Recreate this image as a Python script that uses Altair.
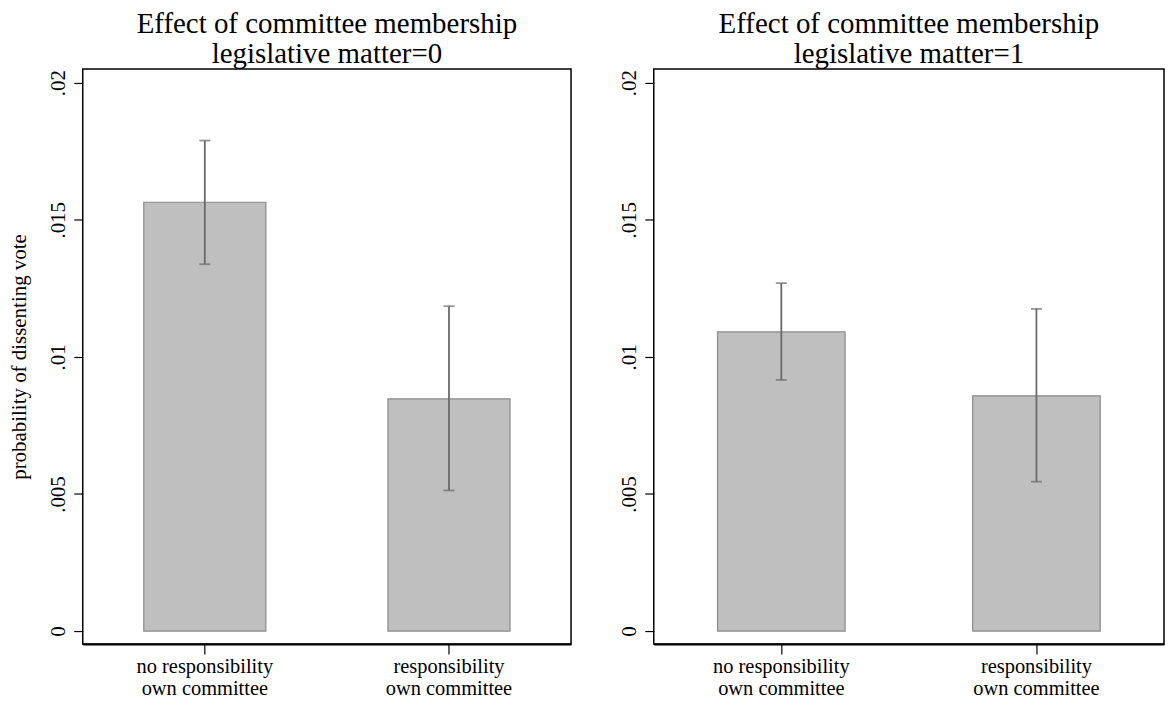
import altair as alt
import pandas as pd

categories = ["no responsibility|own committee", "responsibility|own committee"]
matter_0_prob = [0.01564, 0.00847]
matter_0_lo = [0.01338, 0.00513]
matter_0_hi = [0.01789, 0.01185]
matter_1_prob = [0.01091, 0.00858]
matter_1_lo = [0.00916, 0.00545]
matter_1_hi = [0.01269, 0.01175]
y_ticks = [0, 0.005, 0.01, 0.015, 0.02]
panel_titles = [["Effect of committee membership", "legislative matter=0"],
                ["Effect of committee membership", "legislative matter=1"]]

FONT = "Liberation Serif"


def panel(prob, lo, hi, title, width, show_ytitle):
    df = pd.DataFrame({"cat": categories, "prob": prob, "lo": lo, "hi": hi})
    x = alt.X("cat:N", sort=categories, title=None,
              scale=alt.Scale(paddingInner=0.5, paddingOuter=0.25),
              axis=alt.Axis(labelAngle=0, labelExpr="split(datum.label, '|')",
                            labelFontSize=20.5, labelLineHeight=22,
                            tickSize=10, tickColor="black",
                            tickWidth=1.2, domainColor="black", domainWidth=2,
                            labelPadding=3))
    y_scale = alt.Scale(domain=[-0.00047, 0.0205], nice=False, zero=False)
    y_axis = alt.Axis(values=y_ticks, grid=False,
                      labelExpr="datum.value == 0 ? '0' : substring(format(datum.value, '.3~f'), 1)",
                      labelAngle=270, labelAlign="center", labelBaseline="bottom",
                      labelFontSize=21, labelPadding=5, tickSize=9, tickColor="black",
                      tickWidth=1.2, domain=False,
                      title="probability of dissenting vote" if show_ytitle else None,
                      titleFontSize=21, titleFontWeight="normal", titlePadding=18)
    base = alt.Chart(df)
    bars = base.mark_bar(color="#bfbfbf", stroke="#8a8a8a", strokeWidth=1.2).encode(
        x=x, y=alt.Y("prob:Q", scale=y_scale, axis=y_axis))
    rules = base.mark_rule(color="#6a6a6a", strokeWidth=1.8).encode(
        x=alt.X("cat:N", sort=categories), y="lo:Q", y2="hi:Q")
    cap_hi = base.mark_tick(color="#6a6a6a", size=11, thickness=1.8, orient="horizontal").encode(
        x=alt.X("cat:N", sort=categories), y="hi:Q")
    cap_lo = base.mark_tick(color="#6a6a6a", size=11, thickness=1.8, orient="horizontal").encode(
        x=alt.X("cat:N", sort=categories), y="lo:Q")
    return alt.layer(bars, rules, cap_hi, cap_lo).properties(
        width=width, height=577,
        title=alt.TitleParams(title, fontSize=29, fontWeight="normal",
                              lineHeight=30, anchor="middle", offset=0))


left = panel(matter_0_prob, matter_0_lo, matter_0_hi, panel_titles[0], 490, True)
right = panel(matter_1_prob, matter_1_lo, matter_1_hi, panel_titles[1], 512, False)

chart = alt.hconcat(left, right, spacing=46).properties(
    padding={"left": 0, "top": 0, "right": 0, "bottom": 0}
).configure(
    background="white", font=FONT
).configure_view(
    stroke="black", strokeWidth=1.5
).configure_axis(
    labelFont=FONT, titleFont=FONT, labelColor="black", titleColor="black"
).configure_title(
    font=FONT, color="black"
)

chart.save("out.html", embed_options={"renderer": "svg", "actions": False})
